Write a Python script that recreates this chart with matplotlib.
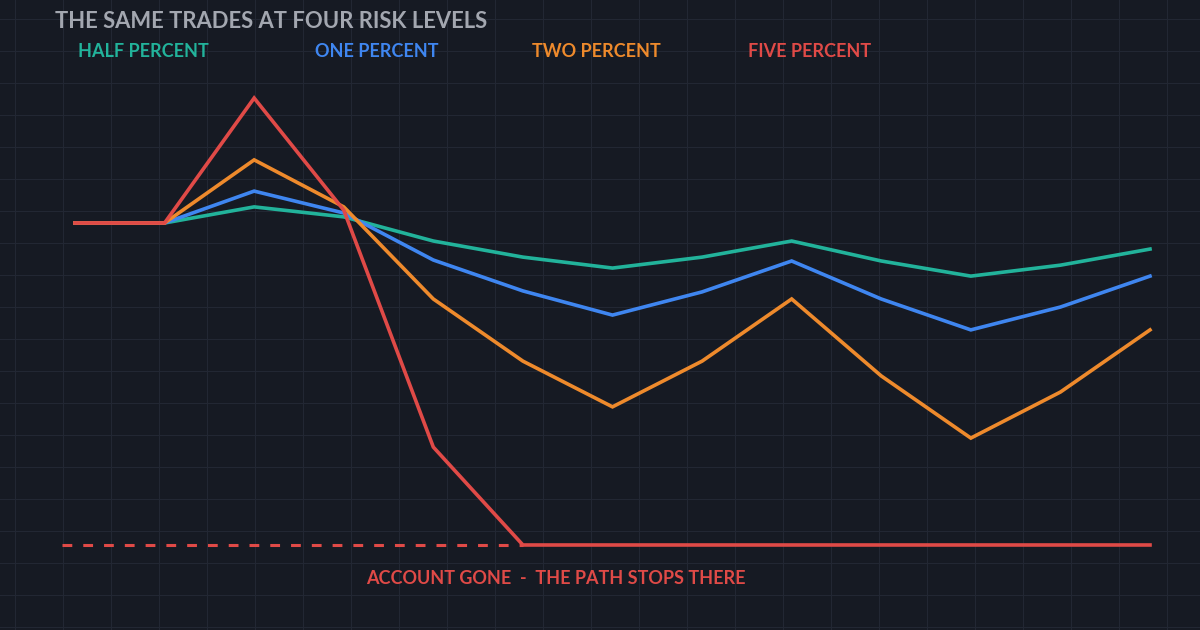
import matplotlib
matplotlib.use("Agg")
import matplotlib.pyplot as plt
import numpy as np

steps = list(range(13))
half = [100, 100, 105, 101.9, 94.4, 89.4, 86, 89.4, 94.4, 88.2, 83.5, 86.9, 91.9]
one = [100, 100, 109.9, 103.1, 88.5, 78.9, 71.4, 78.6, 88.2, 76.4, 66.8, 73.9, 83.5]
two = [100, 100, 119.6, 105, 76.4, 57.1, 42.9, 57.1, 76.4, 52.5, 33.2, 47.5, 66.8]
five = [100, 100, 138.8, 104, 30.4, 0, 0, 0, 0, 0, 0, 0, 0]
labels = ["HALF PERCENT", "ONE PERCENT", "TWO PERCENT", "FIVE PERCENT"]
colors = ["#22b39b", "#3f86f0", "#ee8a2c", "#e04a47"]
title = "THE SAME TRADES AT FOUR RISK LEVELS"
note = "ACCOUNT GONE  -  THE PATH STOPS THERE"

BG = "#161a23"
fig = plt.figure(figsize=(12, 6.3), dpi=100, facecolor=BG)

bg = fig.add_axes([0, 0, 1, 1])
bg.set_xlim(0, 1200); bg.set_ylim(630, 0)
bg.set_facecolor(BG); bg.axis("off")
for x in np.arange(15, 1200, 48):
    bg.axvline(x, color="#222733", lw=0.8, zorder=0)
for y in np.arange(19, 630, 32):
    bg.axhline(y, color="#222733", lw=0.8, zorder=0)

ax = fig.add_axes([0, 0, 1, 1])
ax.patch.set_alpha(0)
ax.axis("off")
ax.set_xlim(-0.837, 12.558)
ax.set_ylim(-26.4, 169.25)

for data, c in zip([half, one, two, five], colors):
    ax.plot(steps, data, color=c, lw=2.6, solid_joinstyle="miter")
ax.plot([-0.14, 5], [0, 0], color=colors[3], lw=2.2, ls=(0, (3.2, 3.6)), zorder=1)

F = ["Lato", "DejaVu Sans"]
fig.text(55/1200, 1 - 22/630, title, color="#a3a7b0", fontsize=15.8, fontweight="bold",
         family=F, va="center", ha="left")
for lab, c, x in zip(labels, colors, [78, 315, 532, 748]):
    fig.text(x/1200, 1 - 51.5/630, lab, color=c, fontsize=13, fontweight="bold",
             family=F, va="center", ha="left")
fig.text(556/1200, 1 - 579/630, note, color=colors[3], fontsize=13, family=F,
         fontweight="bold", va="center", ha="center")

fig.savefig("out.png", dpi=100, facecolor=BG)
